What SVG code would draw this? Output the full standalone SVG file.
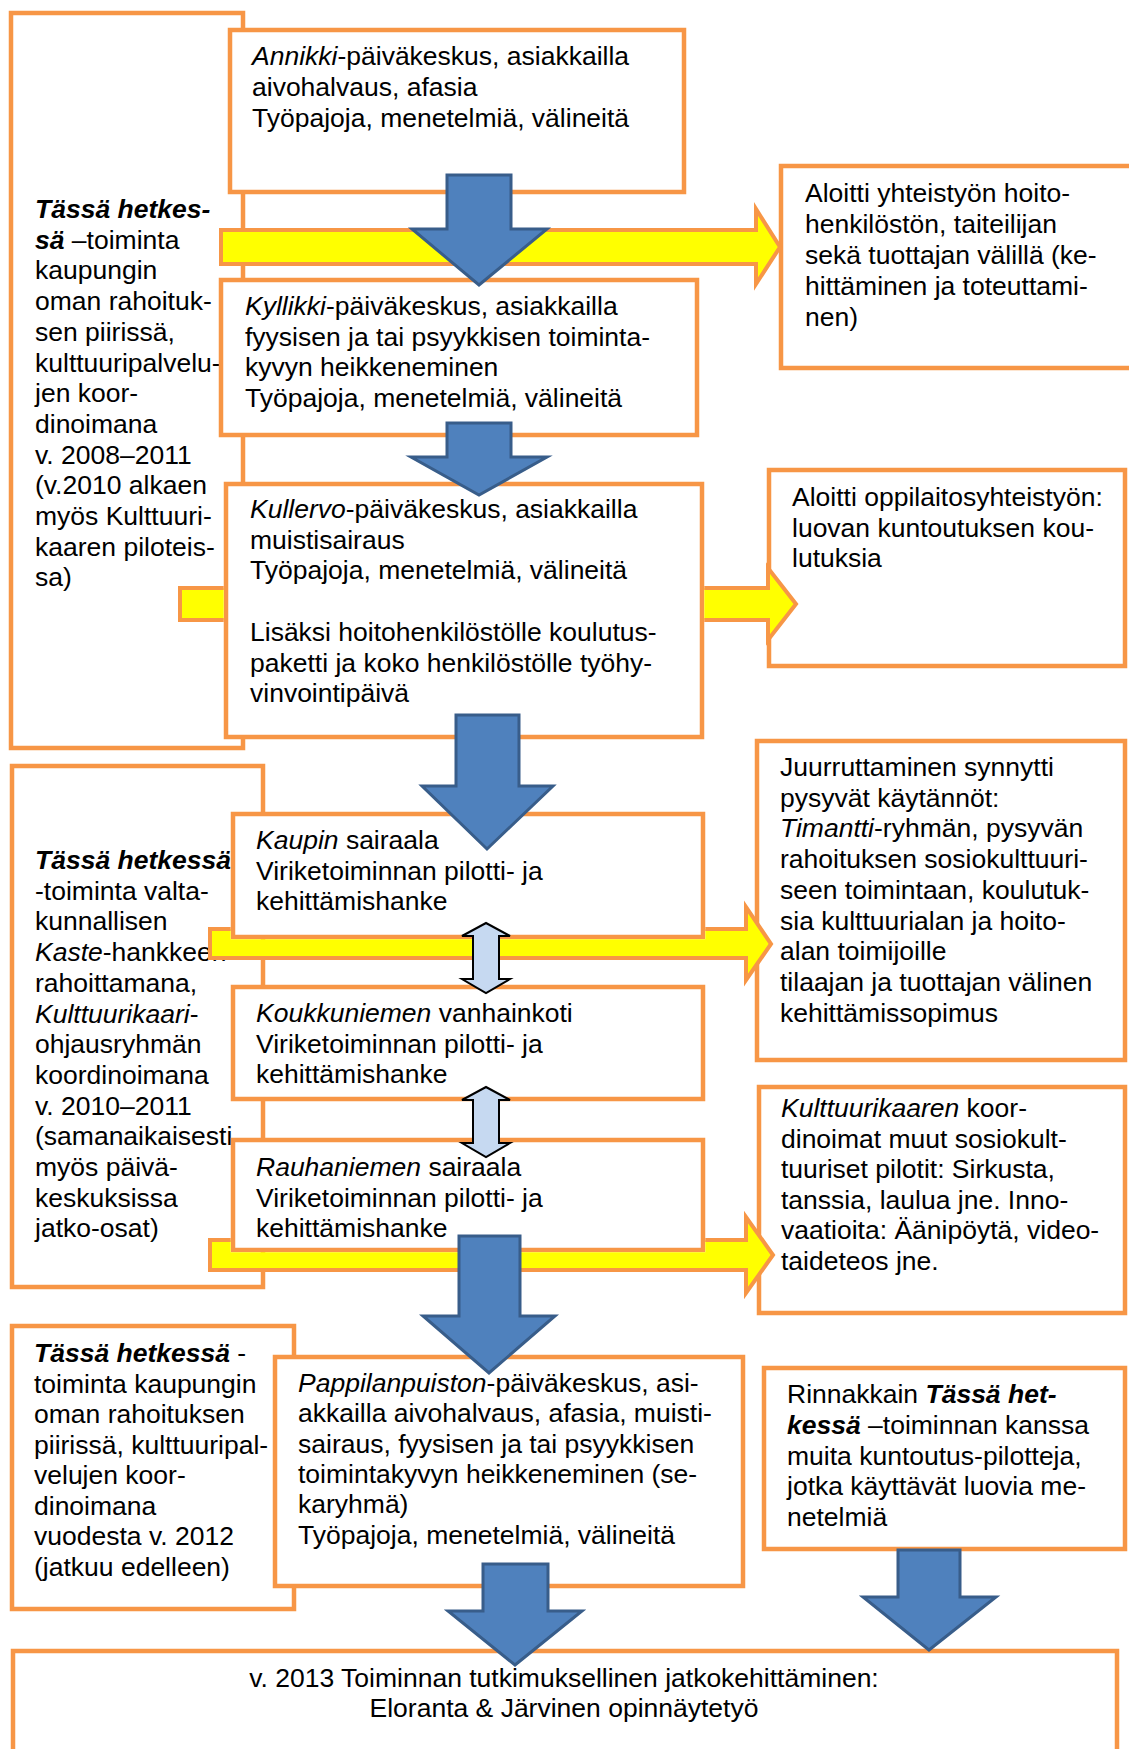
<svg xmlns="http://www.w3.org/2000/svg" width="1129" height="1749" viewBox="0 0 1129 1749">
<style>
text{font-family:"Liberation Sans",Arial,sans-serif;font-size:26.5px;fill:#000}
.i{font-style:italic}
.bi{font-style:italic;font-weight:bold}
.box{fill:#fff;stroke:#F79646;stroke-width:4.5}
.ya{fill:#FFFF00;stroke:#F79646;stroke-width:4;stroke-linejoin:miter}
.ba{fill:#4F81BD;stroke:#385D8A;stroke-width:3}
.da{fill:#C6D9F1;stroke:#000;stroke-width:2}
</style>
<defs>
<clipPath id="yclip"><path clip-rule="evenodd" d="M0,0H1129V1749H0Z M223.7,481.7H704.3V739.3H223.7Z M230.7,811.7H705.3V939.3H230.7Z M230.7,1137.7H705.3V1252.3H230.7Z"/></clipPath>
</defs>
<rect width="1129" height="1749" fill="#fff"/>

<g id="phase1">
<rect class="box" x="11" y="13" width="232" height="735"/>
<text x="35" y="218"><tspan class="bi">Tässä hetkes-</tspan></text>
<text x="35" y="248.7"><tspan class="bi">sä</tspan> –toiminta</text>
<text x="35" y="279.4">kaupungin</text>
<text x="35" y="310.1">oman rahoituk-</text>
<text x="35" y="340.8">sen piirissä,</text>
<text x="35" y="371.5">kulttuuripalvelu-</text>
<text x="35" y="402.2">jen koor-</text>
<text x="35" y="432.9">dinoimana</text>
<text x="35" y="463.6">v. 2008–2011</text>
<text x="35" y="494.3">(v.2010 alkaen</text>
<text x="35" y="525">myös Kulttuuri-</text>
<text x="35" y="555.7">kaaren piloteis-</text>
<text x="35" y="586.4">sa)</text>
</g>

<g id="phase2">
<rect class="box" x="12" y="766" width="251" height="521"/>
<text x="35" y="869"><tspan class="bi">Tässä hetkessä</tspan></text>
<text x="35" y="899.7">-toiminta valta-</text>
<text x="35" y="930.4">kunnallisen</text>
<text x="35" y="961.1"><tspan class="i">Kaste</tspan>-hankkeen</text>
<text x="35" y="991.8">rahoittamana,</text>
<text x="35" y="1022.5"><tspan class="i">Kulttuurikaari</tspan>-</text>
<text x="35" y="1053.2">ohjausryhmän</text>
<text x="35" y="1083.9">koordinoimana</text>
<text x="35" y="1114.6">v. 2010–2011</text>
<text x="35" y="1145.3">(samanaikaisesti</text>
<text x="35" y="1176">myös päivä-</text>
<text x="35" y="1206.7">keskuksissa</text>
<text x="35" y="1237.4">jatko-osat)</text>
</g>

<g id="phase3">
<rect class="box" x="12" y="1326" width="282" height="283"/>
<text x="34" y="1362"><tspan class="bi">Tässä hetkessä</tspan> -</text>
<text x="34" y="1392.5">toiminta kaupungin</text>
<text x="34" y="1423">oman rahoituksen</text>
<text x="34" y="1453.5">piirissä, kulttuuripal-</text>
<text x="34" y="1484">velujen koor-</text>
<text x="34" y="1514.5">dinoimana</text>
<text x="34" y="1545">vuodesta v. 2012</text>
<text x="34" y="1575.5">(jatkuu edelleen)</text>
</g>

<g id="result1">
<rect class="box" x="781" y="166" width="380" height="202"/>
<text x="805" y="202">Aloitti yhteistyön hoito-</text>
<text x="805" y="233">henkilöstön, taiteilijan</text>
<text x="805" y="264">sekä tuottajan välillä (ke-</text>
<text x="805" y="295">hittäminen ja toteuttami-</text>
<text x="805" y="326">nen)</text>
</g>

<g id="result2">
<rect class="box" x="769" y="470" width="356" height="196"/>
<text x="792" y="506">Aloitti oppilaitosyhteistyön:</text>
<text x="792" y="537">luovan kuntoutuksen kou-</text>
<text x="792" y="567">lutuksia</text>
</g>

<g id="result3">
<rect class="box" x="757" y="741" width="368" height="319"/>
<text x="780" y="776">Juurruttaminen synnytti</text>
<text x="780" y="806.7">pysyvät käytännöt:</text>
<text x="780" y="837.4"><tspan class="i">Timantti</tspan>-ryhmän, pysyvän</text>
<text x="780" y="868.1">rahoituksen sosiokulttuuri-</text>
<text x="780" y="898.8">seen toimintaan, koulutuk-</text>
<text x="780" y="929.5">sia kulttuurialan ja hoito-</text>
<text x="780" y="960.2">alan toimijoille</text>
<text x="780" y="990.9">tilaajan ja tuottajan välinen</text>
<text x="780" y="1021.6">kehittämissopimus</text>
</g>

<g id="result4">
<rect class="box" x="759" y="1087" width="366" height="226"/>
<text x="781" y="1117"><tspan class="i">Kulttuurikaaren</tspan> koor-</text>
<text x="781" y="1147.6">dinoimat muut sosiokult-</text>
<text x="781" y="1178.2">tuuriset pilotit: Sirkusta,</text>
<text x="781" y="1208.8">tanssia, laulua jne. Inno-</text>
<text x="781" y="1239.4">vaatioita: Äänipöytä, video-</text>
<text x="781" y="1270">taideteos jne.</text>
</g>

<g id="parallel">
<rect class="box" x="764" y="1368" width="361" height="181"/>
<text x="787" y="1403">Rinnakkain  <tspan class="bi">Tässä het-</tspan></text>
<text x="787" y="1434"><tspan class="bi">kessä</tspan> –toiminnan kanssa</text>
<text x="787" y="1465">muita kuntoutus-pilotteja,</text>
<text x="787" y="1495">jotka käyttävät luovia me-</text>
<text x="787" y="1526">netelmiä</text>
</g>

<g id="final">
<rect class="box" x="13" y="1651" width="1104" height="130"/>
<text x="564" y="1687" text-anchor="middle">v. 2013 Toiminnan tutkimuksellinen jatkokehittäminen:</text>
<text x="564" y="1717" text-anchor="middle">Eloranta &amp; Järvinen opinnäytetyö</text>
</g>

<g id="annikki">
<rect class="box" x="230" y="30" width="454" height="162"/>
<text x="252" y="65"><tspan class="i">Annikki</tspan>-päiväkeskus, asiakkailla</text>
<text x="252" y="96">aivohalvaus, afasia</text>
<text x="252" y="127">Työpajoja, menetelmiä, välineitä</text>
</g>

<g id="kyllikki">
<rect class="box" x="221" y="280" width="476" height="155"/>
<text x="245" y="315"><tspan class="i">Kyllikki</tspan>-päiväkeskus, asiakkailla</text>
<text x="245" y="345.7">fyysisen ja tai psyykkisen toiminta-</text>
<text x="245" y="376.4">kyvyn heikkeneminen</text>
<text x="245" y="407.1">Työpajoja, menetelmiä, välineitä</text>
</g>

<g id="kullervo">
<rect class="box" x="226" y="484" width="476" height="253"/>
<text x="250" y="518"><tspan class="i">Kullervo</tspan>-päiväkeskus, asiakkailla</text>
<text x="250" y="548.7">muistisairaus</text>
<text x="250" y="579.4">Työpajoja, menetelmiä, välineitä</text>
<text x="250" y="640.8">Lisäksi hoitohenkilöstölle koulutus-</text>
<text x="250" y="671.5">paketti ja koko henkilöstölle työhy-</text>
<text x="250" y="702.2">vinvointipäivä</text>
</g>

<g id="kaupin">
<rect class="box" x="233" y="814" width="470" height="123"/>
<text x="256" y="849"><tspan class="i">Kaupin</tspan> sairaala</text>
<text x="256" y="879.5">Viriketoiminnan pilotti- ja</text>
<text x="256" y="910">kehittämishanke</text>
</g>

<g id="koukkuniemi">
<rect class="box" x="233" y="987" width="470" height="112"/>
<text x="256" y="1022"><tspan class="i">Koukkuniemen</tspan> vanhainkoti</text>
<text x="256" y="1052.5">Viriketoiminnan pilotti- ja</text>
<text x="256" y="1083">kehittämishanke</text>
</g>

<g id="rauhaniemi">
<rect class="box" x="233" y="1140" width="470" height="110"/>
<text x="256" y="1176"><tspan class="i">Rauhaniemen</tspan> sairaala</text>
<text x="256" y="1206.5">Viriketoiminnan pilotti- ja</text>
<text x="256" y="1237">kehittämishanke</text>
</g>

<g id="pappilanpuisto">
<rect class="box" x="275" y="1357" width="468" height="229"/>
<text x="298" y="1392"><tspan class="i">Pappilanpuiston</tspan>-päiväkeskus, asi-</text>
<text x="298" y="1422.3">akkailla aivohalvaus, afasia, muisti-</text>
<text x="298" y="1452.6">sairaus, fyysisen ja tai psyykkisen</text>
<text x="298" y="1482.9">toimintakyvyn heikkeneminen (se-</text>
<text x="298" y="1513.2">karyhmä)</text>
<text x="298" y="1543.5">Työpajoja, menetelmiä, välineitä</text>
</g>

<g id="connectors">
<g clip-path="url(#yclip)">
<path class="ya" d="M221,230H756V209L780,247L756,284V264H221Z"/>
<path class="ya" d="M180,588H768V568L796,604L768,640V620H180Z"/>
<path class="ya" d="M210,929H746V907L771,944L746,980V958H210Z"/>
<path class="ya" d="M210,1240H746V1217L773,1255L746,1293V1270H210Z"/>
</g>
<path class="ba" d="M447,175H511V229H547L479,285L412,229H447Z"/>
<path class="ba" d="M447,423H511V457H547L479,495L411,457H447Z"/>
<path class="ba" d="M456,715H519V786H553L487,849L422,786H456Z"/>
<path class="ba" d="M459,1236H520V1316H555L489,1373L423,1316H459Z"/>
<path class="ba" d="M483,1564H548V1611H582L515,1665L448,1611H483Z"/>
<path class="ba" d="M898,1550H960V1597H996L929,1650L863,1597H898Z"/>
<path class="da" d="M486,923L510,936H499V979H510L486,993L462,979H473V936H462Z"/>
<path class="da" d="M486,1087L510,1100H499V1143H510L486,1157L462,1143H473V1100H462Z"/>
</g>
</svg>
